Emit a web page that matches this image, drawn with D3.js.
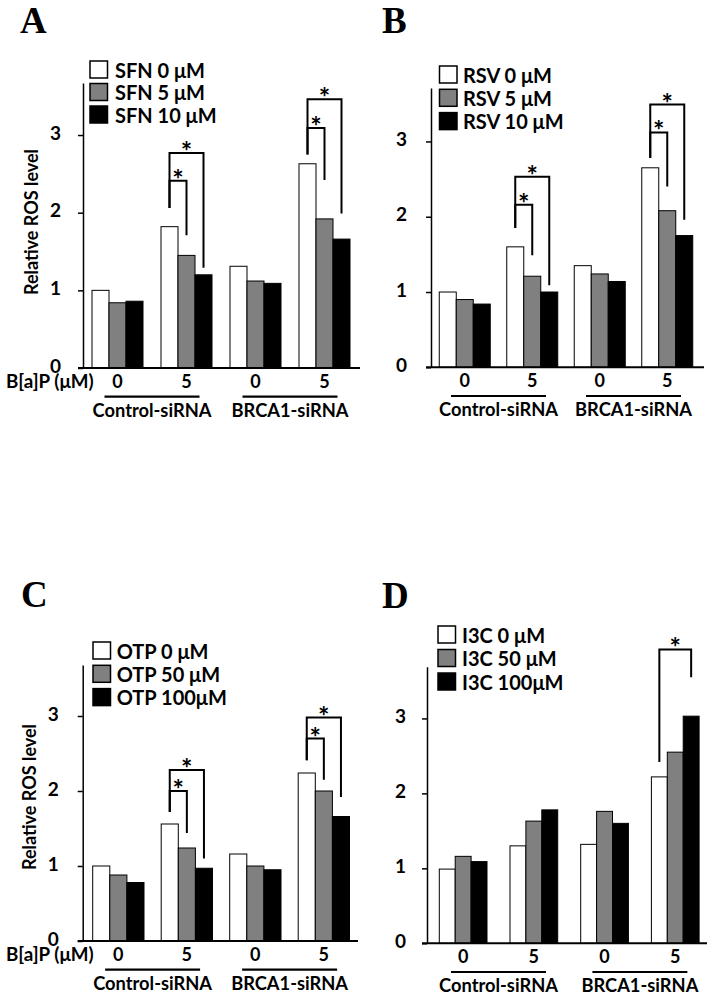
<!DOCTYPE html>
<html><head><meta charset="utf-8">
<script src="https://cdn.jsdelivr.net/npm/d3@7"></script>
<style>
body{margin:0;background:#fff}
svg{display:block}
text{font-family:Lato,"Open Sans",sans-serif;font-weight:bold;fill:#000}
</style>
</head><body>
<svg id="chart" width="714" height="999"></svg>
<script>
// ---------- data ----------
const groupLabels = ["Control-siRNA", "BRCA1-siRNA"];
const bapDoses = ["0", "5", "0", "5"];
const yTickValues = [0, 1, 2, 3];
const seriesColors = ["#ffffff", "#808080", "#000000"];
const yTitle = "Relative ROS level";
const bapLabel = "B[a]P (μM)";

const legendA = ["SFN 0 μM", "SFN 5 μM", "SFN 10 μM"];
const legendB = ["RSV 0 μM", "RSV 5 μM", "RSV 10 μM"];
const legendC = ["OTP 0 μM", "OTP 50 μM", "OTP 100μM"];
const legendD = ["I3C 0 μM", "I3C 50 μM", "I3C 100μM"];

// values[group][series]
const valuesA = [[1.00, 0.84, 0.86], [1.82, 1.45, 1.20], [1.31, 1.12, 1.09], [2.63, 1.92, 1.66]];
const valuesB = [[1.00, 0.90, 0.84], [1.60, 1.21, 1.00], [1.35, 1.24, 1.14], [2.65, 2.08, 1.75]];
const valuesC = [[1.00, 0.88, 0.78], [1.56, 1.24, 0.97], [1.16, 1.00, 0.95], [2.24, 2.00, 1.66]];
const valuesD = [[0.99, 1.16, 1.09], [1.30, 1.63, 1.78], [1.32, 1.76, 1.60], [2.22, 2.55, 3.03]];

// significance brackets: group, from series, to series, level, left leg end, right leg end (value units)
const bracketsA = [
  {g: 1, a: 0, b: 1, top: 2.41, lb: 2.06, rb: 1.71},
  {g: 1, a: 0, b: 2, top: 2.77, lb: 2.06, rb: 1.29},
  {g: 3, a: 0, b: 1, top: 3.09, lb: 2.75, rb: 2.42},
  {g: 3, a: 0, b: 2, top: 3.46, lb: 2.75, rb: 1.99}
];
const bracketsB = [
  {g: 1, a: 0, b: 1, top: 2.16, lb: 1.85, rb: 1.49},
  {g: 1, a: 0, b: 2, top: 2.53, lb: 1.85, rb: 1.09},
  {g: 3, a: 0, b: 1, top: 3.12, lb: 2.78, rb: 2.40},
  {g: 3, a: 0, b: 2, top: 3.49, lb: 2.78, rb: 1.96}
];
const bracketsC = [
  {g: 1, a: 0, b: 1, top: 2.00, lb: 1.72, rb: 1.44},
  {g: 1, a: 0, b: 2, top: 2.28, lb: 1.72, rb: 1.10},
  {g: 3, a: 0, b: 1, top: 2.70, lb: 2.41, rb: 2.15},
  {g: 3, a: 0, b: 2, top: 2.98, lb: 2.41, rb: 1.92}
];
const bracketsD = [
  {g: 3, a: 0, b: 2, top: 3.92, lb: 2.42, rb: 3.55}
];

// ---------- layout ----------
const panels = [
  {letter: "A", lx: 20, ly: 33, values: valuesA, legend: legendA, brackets: bracketsA,
   ox: 83, right: 360, y0: 368, yTopPx: 83, yTopVal: 3.67, xStart: 83, step: 69, bw: 17,
   leg: {x: 90, y: 61, dy: 22.5, tx: 115}, tickPad: 17, title: {x: 31, y: 222}, bap: true},
  {letter: "B", lx: 382, ly: 33, values: valuesB, legend: legendB, brackets: bracketsB,
   ox: 431, right: 704, y0: 367.3, yTopPx: 88, yTopVal: 3.71, xStart: 431, step: 67.5, bw: 17,
   leg: {x: 439.5, y: 66, dy: 23.3, tx: 463}, tickPad: 19, title: null, bap: false},
  {letter: "C", lx: 21, ly: 607, values: valuesC, legend: legendC, brackets: bracketsC,
   ox: 82.7, right: 358, y0: 941, yTopPx: 665, yTopVal: 3.68, xStart: 84.1, step: 68.5, bw: 17.1,
   leg: {x: 93, y: 642, dy: 23.3, tx: 116.7}, tickPad: 19, title: {x: 28.7, y: 797}, bap: true},
  {letter: "D", lx: 382, ly: 608, values: valuesD, legend: legendD, brackets: bracketsD,
   ox: 427, right: 707, y0: 943.3, yTopPx: 666.7, yTopVal: 3.69, xStart: 427.8, step: 70.7, bw: 15.9,
   leg: {x: 438, y: 626, dy: 23.5, tx: 462}, tickPad: 16, title: null, bap: false}
];

const svg = d3.select("#chart");
svg.append("rect").attr("width", 714).attr("height", 999).attr("fill", "#fff");

panels.forEach(p => {
  const g = svg.append("g");
  const gap = p.step - 3 * p.bw;
  const x = d3.scaleBand().domain(d3.range(4))
    .range([p.xStart, p.xStart + 4 * p.step])
    .paddingInner(gap / p.step).paddingOuter(gap / p.step / 2);
  const xs = d3.scaleBand().domain(d3.range(3)).range([0, x.bandwidth()]);
  const y = d3.scaleLinear().domain([0, p.yTopVal]).range([p.y0, p.yTopPx]);

  // panel letter
  g.append("text").attr("x", p.lx).attr("y", p.ly)
    .style("font-family", "'Liberation Serif','DejaVu Serif',serif")
    .style("font-size", "37px").style("font-weight", "bold").text(p.letter);

  // bars
  p.values.forEach((row, gi) => {
    g.selectAll(null).data(row).enter().append("rect")
      .attr("x", (d, si) => x(gi) + xs(si))
      .attr("y", d => y(d))
      .attr("width", xs.bandwidth())
      .attr("height", d => y(0) - y(d))
      .attr("fill", (d, si) => seriesColors[si])
      .attr("stroke", "#000").attr("stroke-width", 1);
  });

  // y axis
  const ax = g.append("g").attr("transform", `translate(${p.ox},0)`)
    .call(d3.axisLeft(y).tickValues(yTickValues).tickSize(5).tickSizeOuter(0).tickPadding(p.tickPad).tickFormat(d3.format("d")));
  ax.select(".domain").attr("stroke", "#000").attr("stroke-width", 1.5);
  ax.selectAll(".tick line").attr("stroke", "#000").attr("stroke-width", 1.5);
  ax.selectAll(".tick text").style("font-family", "Lato,'Open Sans',sans-serif")
    .style("font-size", "19px").style("font-weight", "bold").attr("fill", "#000")
    .attr("dy", "0.22em");

  // x axis line
  g.append("line").attr("x1", p.ox - 5).attr("x2", p.right)
    .attr("y1", p.y0).attr("y2", p.y0).attr("stroke", "#000").attr("stroke-width", 2);

  // dose labels
  g.selectAll(null).data(bapDoses).enter().append("text")
    .attr("x", (d, i) => x(i) + x.bandwidth() / 2).attr("y", p.y0 + 20)
    .attr("text-anchor", "middle").style("font-size", "18px").text(d => d);

  if (p.bap) {
    g.append("text").attr("x", 6).attr("y", p.y0 + 20).style("font-size", "18.8px").text(bapLabel);
  }

  // group underline and labels
  groupLabels.forEach((lab, k) => {
    const mid = (x(2 * k) + x(2 * k + 1) + x.bandwidth()) / 2;
    g.append("line").attr("x1", mid - 47.5).attr("x2", mid + 47.5)
      .attr("y1", p.y0 + 28.7).attr("y2", p.y0 + 28.7).attr("stroke", "#000").attr("stroke-width", 2.2);
    g.append("text").attr("x", mid).attr("y", p.y0 + 49).attr("text-anchor", "middle")
      .style("font-size", "18.3px").text(lab);
  });

  // y title
  if (p.title) {
    g.append("text").attr("transform", `translate(${p.title.x},${p.title.y}) rotate(-90)`)
      .attr("text-anchor", "middle").attr("dominant-baseline", "central")
      .style("font-size", "18px").text(yTitle);
  }

  // legend
  p.legend.forEach((lab, i) => {
    g.append("rect").attr("x", p.leg.x).attr("y", p.leg.y + i * p.leg.dy)
      .attr("width", 17.5).attr("height", 17).attr("fill", seriesColors[i])
      .attr("stroke", "#000").attr("stroke-width", 1.5);
    g.append("text").attr("x", p.leg.tx).attr("y", p.leg.y + i * p.leg.dy + 8.5)
      .attr("dominant-baseline", "central").style("font-size", "20px").text(lab);
  });

  // brackets
  p.brackets.forEach(b => {
    const xa = x(b.g) + xs(b.a) + xs.bandwidth() / 2;
    const xb = x(b.g) + xs(b.b) + xs.bandwidth() / 2;
    const path = d3.path();
    path.moveTo(xa, y(b.lb)); path.lineTo(xa, y(b.top));
    path.lineTo(xb, y(b.top)); path.lineTo(xb, y(b.rb));
    g.append("path").attr("d", path.toString()).attr("fill", "none")
      .attr("stroke", "#000").attr("stroke-width", 2);
    g.append("text").attr("x", (xa + xb) / 2).attr("y", y(b.top) + 8)
      .attr("text-anchor", "middle").style("font-size", "27px").text("*");
  });
});
</script>
</body></html>
